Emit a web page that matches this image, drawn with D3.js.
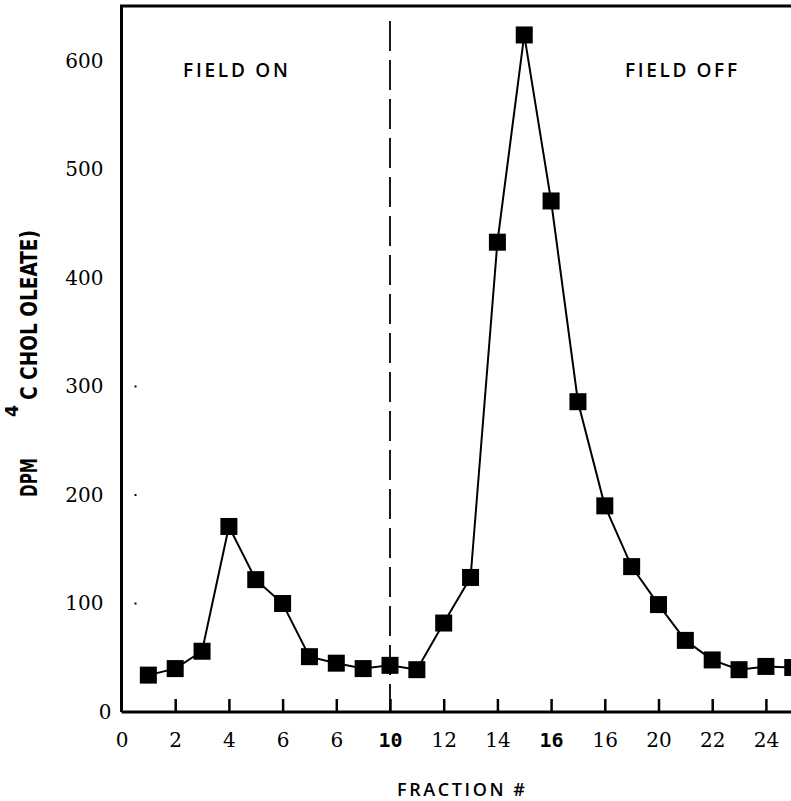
<!DOCTYPE html>
<html>
<head>
<meta charset="utf-8">
<script src="https://cdn.jsdelivr.net/npm/d3@7"></script>
<style>
  body { margin: 0; background: #fff; }
  svg { display: block; }
</style>
</head>
<body>
<div id="chart"></div>
<script>
// fraction number and DPM
const fractions = [1, 2, 3, 4, 5, 6, 7, 8, 9, 10, 11, 12, 13, 14, 15, 16, 17, 18, 19, 20, 21, 22, 23, 24, 25];
const dpm = [34, 40, 56, 171, 122, 100, 51, 45, 40, 43, 39, 82, 124, 433, 624, 471, 286, 190, 134, 99, 66, 48, 39, 42, 41];

const xTicks = [0, 2, 4, 6, 8, 10, 12, 14, 16, 18, 20, 22, 24];
const xTickLabels = ["0", "2", "4", "6", "6", "10", "12", "14", "16", "16", "20", "22", "24"];
const boldTicks = [10, 16];
const yTicks = [0, 100, 200, 300, 400, 500, 600];
const yDots = [100, 200, 300];
const fieldSwitch = 10;

const W = 791, H = 801;
const svg = d3.select("#chart").append("svg").attr("width", W).attr("height", H);

const x = d3.scaleLinear().domain([0, 25]).range([121.5, 792.75]);
const y = d3.scaleLinear().domain([0, 600]).range([712, 61]);

const serif = "'DejaVu Serif', 'Liberation Serif', serif";
const sans = "'Open Sans', 'DejaVu Sans', sans-serif";

// x axis: small ticks pointing up into the plot
const xAxis = svg.append("g")
    .attr("transform", `translate(0,${y(0)})`)
    .call(d3.axisBottom(x)
        .tickValues(xTicks)
        .tickSizeInner(-13)
        .tickSizeOuter(0)
        .tickPadding(21)
        .tickFormat((d, i) => xTickLabels[i]));
xAxis.select(".domain").remove();
xAxis.selectAll(".tick line")
    .attr("stroke", "#000")
    .attr("stroke-width", 2.5)
    .style("display", d => d === 0 ? "none" : null);
xAxis.selectAll(".tick text")
    .attr("fill", "#000")
    .style("font-family", d => boldTicks.includes(d) ? "'DejaVu Sans Mono', monospace" : serif)
    .style("font-weight", d => boldTicks.includes(d) ? "bold" : "normal")
    .style("font-size", "20px");

// y axis labels only
const yAxis = svg.append("g")
    .attr("transform", `translate(${x(0)},0)`)
    .call(d3.axisLeft(y).tickValues(yTicks).tickSize(0).tickPadding(18));
yAxis.select(".domain").remove();
yAxis.selectAll(".tick text")
    .attr("fill", "#000")
    .attr("dx", d => d === 0 ? 8 : 0)
    .style("font-family", serif)
    .style("font-size", "20px");

// tiny marks just inside the left axis
svg.selectAll("rect.ydot")
    .data(yDots)
    .enter()
    .append("rect")
    .attr("class", "ydot")
    .attr("x", x(0) + 13)
    .attr("y", d => y(d) - 1)
    .attr("width", 2)
    .attr("height", 2)
    .attr("fill", "#000");

// frame: left, bottom, top
svg.append("path")
    .attr("d", `M${x(0)},${y(0)}V6H${W}`)
    .attr("fill", "none")
    .attr("stroke", "#000")
    .attr("stroke-width", 3);
svg.append("line")
    .attr("x1", x(0)).attr("x2", W)
    .attr("y1", y(0)).attr("y2", y(0))
    .attr("stroke", "#000")
    .attr("stroke-width", 3);

// dashed divider
svg.append("line")
    .attr("x1", x(fieldSwitch)).attr("x2", x(fieldSwitch))
    .attr("y1", 21).attr("y2", y(0))
    .attr("stroke", "#000")
    .attr("stroke-width", 1.8)
    .attr("stroke-dasharray", "30,9");

// data line and square markers
const data = fractions.map((f, i) => ({ f: f, v: dpm[i] }));
svg.append("path")
    .datum(data)
    .attr("d", d3.line().x(d => x(d.f)).y(d => y(d.v)))
    .attr("fill", "none")
    .attr("stroke", "#000")
    .attr("stroke-width", 2);

const size = 17;
svg.selectAll("rect.pt")
    .data(data)
    .enter()
    .append("rect")
    .attr("class", "pt")
    .attr("x", d => x(d.f) - size / 2)
    .attr("y", d => y(d.v) - size / 2)
    .attr("width", size)
    .attr("height", size)
    .attr("fill", "#000");

// panel labels
svg.append("text")
    .attr("x", 183).attr("y", 77)
    .attr("textLength", 105)
    .style("font-family", sans).style("font-weight", 600).style("font-size", "19px")
    .text("FIELD ON");
svg.append("text")
    .attr("x", 625).attr("y", 77)
    .attr("textLength", 112)
    .style("font-family", sans).style("font-weight", 600).style("font-size", "19px")
    .text("FIELD OFF");

// axis titles
svg.append("text")
    .attr("x", 397).attr("y", 796)
    .attr("textLength", 128)
    .style("font-family", sans).style("font-weight", 600).style("font-size", "18px")
    .text("FRACTION #");

const yTitle = svg.append("g").attr("transform", "translate(37,497) rotate(-90)");
yTitle.append("text")
    .attr("x", 0).attr("y", 0)
    .attr("textLength", 39).attr("lengthAdjust", "spacingAndGlyphs")
    .style("font-family", "'DejaVu Sans Condensed', 'DejaVu Sans', sans-serif")
    .style("font-weight", "bold").style("font-size", "23px")
    .text("DPM");
yTitle.append("text")
    .attr("x", 80).attr("y", -19)
    .attr("textLength", 12).attr("lengthAdjust", "spacingAndGlyphs")
    .style("font-family", "'DejaVu Sans Condensed', 'DejaVu Sans', sans-serif")
    .style("font-weight", "bold").style("font-size", "17px")
    .text("4");
yTitle.append("text")
    .attr("x", 97).attr("y", 0)
    .attr("textLength", 170).attr("lengthAdjust", "spacingAndGlyphs")
    .style("font-family", "'DejaVu Sans Condensed', 'DejaVu Sans', sans-serif")
    .style("font-weight", "bold").style("font-size", "23px")
    .text("C CHOL OLEATE)");
</script>
</body>
</html>
